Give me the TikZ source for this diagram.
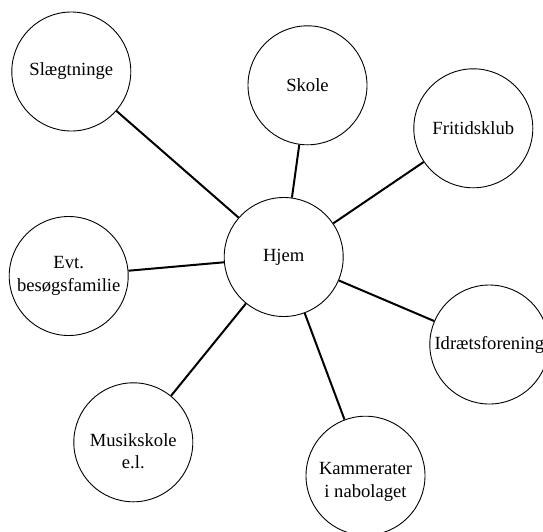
\documentclass[tikz,border=0pt]{standalone}
\usepackage{fontspec}
\setmainfont{Liberation Serif}
\begin{document}
\begin{tikzpicture}[x = 1pt, y = -1pt,
        bubble/.style = {draw, circle, minimum size = 119pt, inner sep = 0pt, line width = 0.9pt, align = center, font = \fontsize{18.6}{22.6}\selectfont},
        spoke/.style = {line width = 2pt}]
                \useasboundingbox (0, 0) rectangle (543, 531);
                \clip (0, 0) rectangle (543, 531);
                \node[bubble] (hjem) at (283.7, 257) {Hjem};
                \node[bubble] (slaegt) at (71.3, 71.5) {Slægtninge};
                \node[bubble] (skole) at (307.5, 85.3) {Skole};
                \node[bubble] (fritid) at (473.3, 128.3) {Fritidsklub};
                \node[bubble] (evt) at (68.7, 276) {Evt.\\besøgsfamilie};
                \node[bubble] (idraet) at (489.3, 344.5) {Idrætsforening};
                \node[bubble, label = {[bubble, draw = none, minimum size = 0pt, yshift = -9pt]center:{Musikskole\\e.l.}}] (musik) at (133.3, 442.3) {};
                \node[bubble, label = {[bubble, draw = none, minimum size = 0pt, yshift = -6pt]center:{Kammerater\\i nabolaget}}] (kamm) at (365.5, 475.7) {};
                % forbindelser fra hjemmet
                \draw[spoke] (hjem) -- (slaegt);
                \draw[spoke] (hjem) -- (skole);
                \draw[spoke] (hjem) -- (fritid);
                \draw[spoke] (hjem) -- (evt);
                \draw[spoke] (hjem) -- (idraet);
                \draw[spoke] (hjem) -- (musik);
                \draw[spoke] (hjem) -- (kamm);
\end{tikzpicture}
\end{document}
